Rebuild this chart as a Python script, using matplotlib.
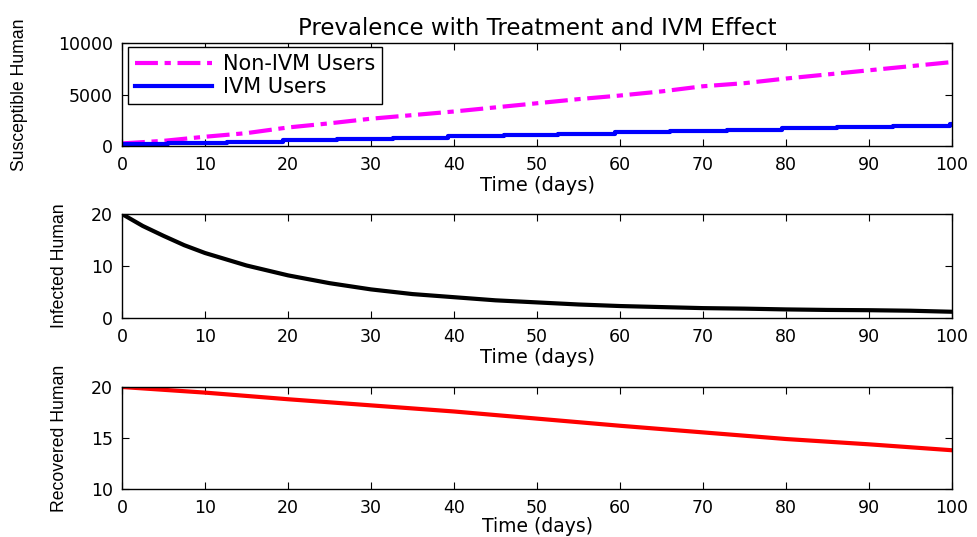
import matplotlib
matplotlib.use("Agg")
import matplotlib.pyplot as plt
from matplotlib import font_manager

# ---------------- data ----------------
t_nonivm = [0, 5, 10, 15, 20, 25, 30, 35, 40, 45, 50, 55, 60, 65, 70, 75, 80, 85, 90, 95, 100]
s_nonivm = [250, 500, 900, 1250, 1800, 2200, 2650, 3000, 3350, 3750, 4150, 4550, 4900, 5300,
            5800, 6100, 6550, 6950, 7350, 7750, 8150]

t_ivm = [0, 5.5, 12.6, 19.4, 25.9, 32.7, 39.3, 46, 52.5, 59.4, 66, 72.9, 79.5, 86.1, 92.9, 99.8, 100]
s_ivm = [150, 280, 410, 540, 670, 800, 930, 1060, 1190, 1320, 1450, 1580, 1710, 1840, 1970, 2100, 2100]

t_inf = [0, 2.5, 5, 7.5, 10, 15, 20, 25, 30, 35, 40, 45, 50, 55, 60, 65, 70, 75, 80, 85, 90, 95, 100]
infected = [20, 17.7, 15.8, 14.0, 12.5, 10.1, 8.2, 6.7, 5.5, 4.6, 4.0, 3.4, 3.0, 2.6, 2.3, 2.1,
            1.9, 1.8, 1.65, 1.55, 1.5, 1.4, 1.2]

t_rec = [0, 10, 20, 30, 40, 50, 60, 70, 80, 90, 100]
recovered = [20, 19.45, 18.8, 18.2, 17.6, 16.9, 16.2, 15.55, 14.9, 14.38, 13.8]

xticks = [0, 10, 20, 30, 40, 50, 60, 70, 80, 90, 100]
yticks_top = [0, 5000, 10000]
yticks_mid = [0, 10, 20]
yticks_bot = [10, 15, 20]

title = "Prevalence with Treatment and IVM Effect"
xlab = "Time (days)"
ylabels = ["Susceptible Human", "Infected Human", "Recovered Human"]
legend_labels = ["Non-IVM Users", "IVM Users"]

# ---------------- style ----------------
plt.rcParams['font.family'] = ['DejaVu Sans']
names = {f.name for f in font_manager.fontManager.ttflist}
if 'Liberation Sans Narrow' in names:
    ylab_family, ylab_size = ['Liberation Sans Narrow', 'DejaVu Sans'], 15.3
else:
    ylab_family, ylab_size = ['Liberation Sans', 'DejaVu Sans'], 12.7

fig = plt.figure(figsize=(9.77, 5.37), dpi=100)
fig.patch.set_facecolor('white')

left, width = 122 / 977, 830 / 977
ax1 = fig.add_axes([left, 1 - 146 / 537, width, 103 / 537])
ax2 = fig.add_axes([left, 1 - 318 / 537, width, 104 / 537])
ax3 = fig.add_axes([left, 1 - 489 / 537, width, 102 / 537])

lw = 3
ax1.plot(t_nonivm, s_nonivm, color='#ff00ff', lw=lw, linestyle=(0, (5.5, 1.6, 1.5, 1.6)),
         label=legend_labels[0])
ax1.plot(t_ivm, s_ivm, color='#0000ff', lw=lw, drawstyle='steps-post', label=legend_labels[1])
ax2.plot(t_inf, infected, color='black', lw=lw)
ax3.plot(t_rec, recovered, color='#ff0000', lw=lw)

ylims = [(0, 10000), (0, 20), (10, 20)]
yticks = [yticks_top, yticks_mid, yticks_bot]
xlab_y = [(146 - 176) / 103, (318 - 348) / 104, (489 - 517) / 102]
ylab_x = [(28 - 122) / 830, (68 - 122) / 830, (68 - 122) / 830]

for ax, yl, yt, xy, yx, ylab in zip([ax1, ax2, ax3], ylims, yticks, xlab_y, ylab_x, ylabels):
    ax.set_xlim(0, 100)
    ax.set_ylim(*yl)
    ax.set_xticks(xticks)
    ax.set_yticks(yt)
    ax.set_xticklabels([str(v) for v in xticks])
    ax.set_yticklabels([str(v) for v in yt])
    ax.tick_params(direction='in', length=5, width=0.8, top=True, right=True,
                   labelsize=12.5, colors='black')
    ax.tick_params(axis='x', pad=7)
    ax.tick_params(axis='y', pad=6.5)
    for sp in ax.spines.values():
        sp.set_linewidth(1.0)
        sp.set_color('black')
    ax.set_xlabel(xlab, fontsize=14)
    ax.xaxis.set_label_coords(0.5, xy)
    ax.set_ylabel(ylab, family=ylab_family, fontsize=ylab_size)
    ax.yaxis.set_label_coords(yx, 0.5)

ax3.xaxis.label.set_fontsize(13.5)

ax1.set_title(title, fontsize=16.5, pad=6)

leg = ax1.legend(loc='upper left', bbox_to_anchor=((128 - 122) / 830, (146 - 47) / 103),
                 borderaxespad=0, fontsize=15, handlelength=3.7, handletextpad=0.5,
                 borderpad=0.35, labelspacing=0.12, fancybox=False, framealpha=1,
                 edgecolor='black')
leg.get_frame().set_linewidth(1.0)

fig.savefig('out.png', dpi=100, facecolor='white')
